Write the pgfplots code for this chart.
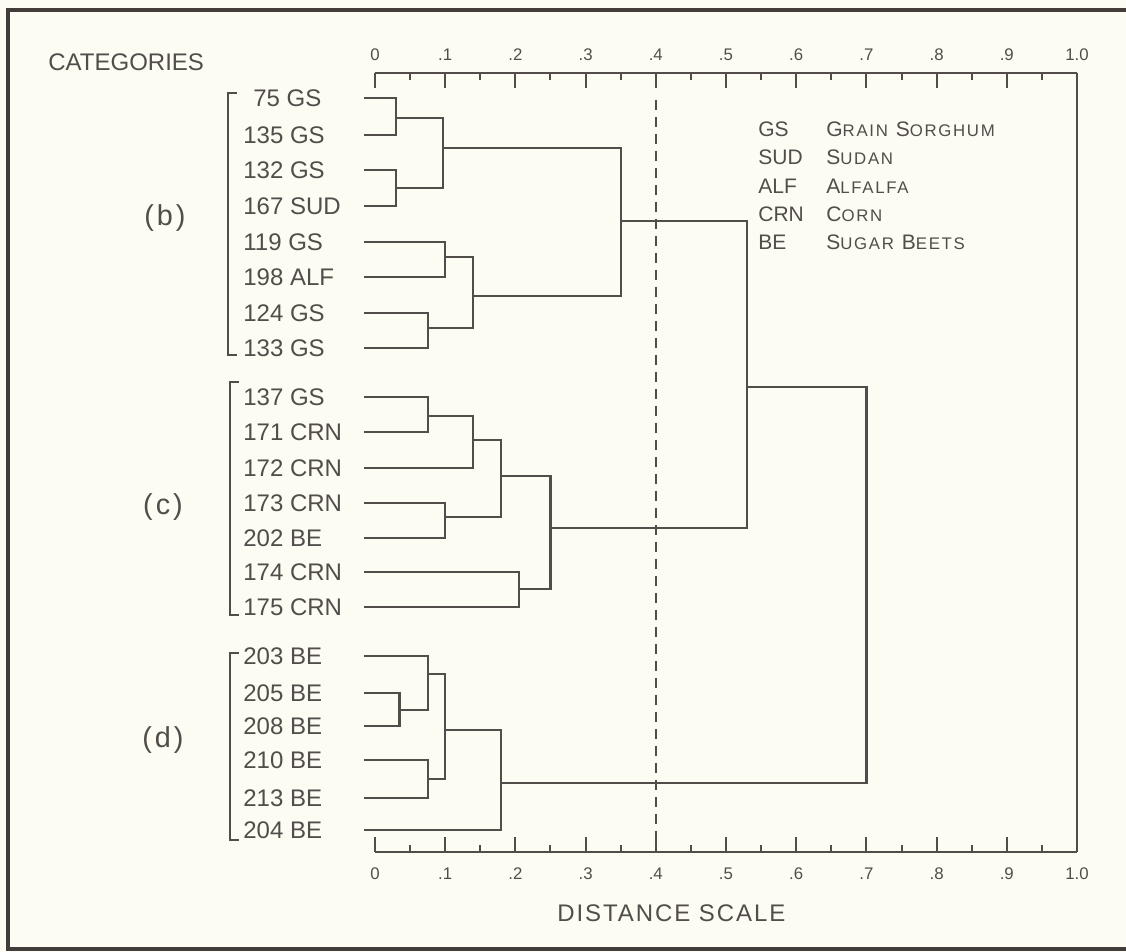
\documentclass[border=0pt]{standalone}
\usepackage{fontspec}
\setmainfont{Liberation Sans}
\newfontfamily\spaced[LetterSpace=8]{Liberation Sans}
\newfontfamily\legfont[LetterSpace=10]{Liberation Sans}
\usepackage{pgfplots}
\pgfplotsset{compat=1.18}

\definecolor{paper}{RGB}{252,252,243}
\definecolor{ink}{RGB}{82,76,74}

% 1 px of the reference = 0.5pt; origin at the lower left corner of the axis box
\newcommand{\pxy}[2]{({((#1)-375)*0.5pt},{(852-(#2))*0.5pt})}
\newcommand{\sm}[1]{{\fontsize{8.4}{10}\selectfont #1}}

\pgfplotsset{
  dendro/.style={
    at={(0,0)}, anchor=south west, scale only axis,
    width=351pt, height=389.5pt,
    xmin=0, xmax=1, ymin=73, ymax=852, y dir=reverse,
    axis x line=box, axis y line=none, ytick=\empty,
    axis line style={ink, line width=1.1pt},
    xtick={0,0.1,0.2,0.3,0.4,0.5,0.6,0.7,0.8,0.9,1},
    minor x tick num=1,
    tick align=inside, major tick length=7.5pt, minor tick length=3.5pt,
    tick style={ink, line width=1pt},
    xticklabels={0,.1,.2,.3,.4,.5,.6,.7,.8,.9,1.0},
    xticklabel style={font=\fontsize{8.4}{10}\selectfont, text=ink, anchor=base, inner sep=0pt},
    clip=false,
  },
  dl/.style={ink, line width=1.1pt, line join=miter, mark=none},
}

\begin{document}
\begin{tikzpicture}
\fill[paper, use as bounding box] \pxy{0}{952} rectangle \pxy{1126}{0};
\draw[ink!80!black, line width=2pt] \pxy{1130}{10} -- \pxy{8}{10} -- \pxy{8}{949} -- \pxy{1130}{949};

\begin{axis}[dendro, xticklabel style={yshift=-13.5pt}]
% group (b)
\addplot[dl] coordinates {(-0.015,98) (0.03,98) (0.03,135) (-0.015,135)};
\addplot[dl] coordinates {(-0.015,170) (0.03,170) (0.03,206) (-0.015,206)};
\addplot[dl] coordinates {(0.03,118) (0.097,118) (0.097,188) (0.03,188)};
\addplot[dl] coordinates {(-0.015,242) (0.1,242) (0.1,277) (-0.015,277)};
\addplot[dl] coordinates {(-0.015,313) (0.075,313) (0.075,348) (-0.015,348)};
\addplot[dl] coordinates {(0.1,257) (0.14,257) (0.14,328) (0.075,328)};
\addplot[dl] coordinates {(0.097,148) (0.35,148) (0.35,296) (0.14,296)};
% group (c)
\addplot[dl] coordinates {(-0.015,397) (0.075,397) (0.075,432) (-0.015,432)};
\addplot[dl] coordinates {(0.075,416) (0.14,416) (0.14,468) (-0.015,468)};
\addplot[dl] coordinates {(-0.015,503) (0.1,503) (0.1,538) (-0.015,538)};
\addplot[dl] coordinates {(0.14,440) (0.18,440) (0.18,517) (0.1,517)};
\addplot[dl] coordinates {(-0.015,572) (0.205,572) (0.205,607) (-0.015,607)};
\addplot[dl] coordinates {(0.18,476) (0.25,476) (0.25,589) (0.205,589)};
% (b) + (c)
\addplot[dl] coordinates {(0.35,221) (0.53,221) (0.53,528) (0.25,528)};
% group (d)
\addplot[dl] coordinates {(-0.015,693) (0.035,693) (0.035,726) (-0.015,726)};
\addplot[dl] coordinates {(-0.015,656) (0.075,656) (0.075,710) (0.035,710)};
\addplot[dl] coordinates {(-0.015,760) (0.075,760) (0.075,798) (-0.015,798)};
\addplot[dl] coordinates {(0.075,674) (0.1,674) (0.1,779) (0.075,779)};
\addplot[dl] coordinates {(0.1,730) (0.18,730) (0.18,830) (-0.015,830)};
% root
\addplot[dl] coordinates {(0.53,387) (0.7,387) (0.7,783) (0.18,783)};
% cut level
\addplot[ink, line width=1pt, dash pattern=on 5pt off 3.5pt] coordinates {(0.4,100) (0.4,845)};
\draw[ink, line width=1.1pt] (axis cs:1,73) -- (axis cs:1,852);
\end{axis}

\begin{axis}[dendro, xticklabel pos=upper, xticklabel style={yshift=6pt}]
\addplot[draw=none] coordinates {(0,73)};
\end{axis}

\begin{scope}[every node/.style={text=ink, inner sep=0pt}]
\node[anchor=base west, font=\fontsize{12}{14}\selectfont] at \pxy{48}{70.5} {CATEGORIES};
\node[anchor=base west, font=\spaced\fontsize{12}{14}\selectfont] at \pxy{557}{921.5} {DISTANCE SCALE};

\foreach \y/\t/\x in {98/75 GS/253, 135/135 GS/243, 170/132 GS/243, 206/167 SUD/243,
    242/119 GS/243, 277/198 ALF/243, 313/124 GS/243, 348/133 GS/243,
    397/137 GS/243, 432/171 CRN/243, 468/172 CRN/243, 503/173 CRN/243,
    538/202 BE/243, 572/174 CRN/243, 607/175 CRN/243,
    656/203 BE/243, 693/205 BE/243, 726/208 BE/243, 760/210 BE/243,
    798/213 BE/243, 830/204 BE/243}
  \node[anchor=base west, font=\fontsize{12}{14}\selectfont] at \pxy{\x}{\y+8.5} {\t};

\draw[ink, line width=1pt] \pxy{237}{93} -- \pxy{228}{93} -- \pxy{228}{355} -- \pxy{237}{355};
\draw[ink, line width=1pt] \pxy{239}{382} -- \pxy{230}{382} -- \pxy{230}{615} -- \pxy{239}{615};
\draw[ink, line width=1pt] \pxy{239}{653} -- \pxy{230}{653} -- \pxy{230}{840} -- \pxy{239}{840};

\node[font=\fontsize{14.4}{16}\selectfont] at \pxy{165}{218} {(\kern1.5pt b\kern1.5pt)};
\node[font=\fontsize{14.4}{16}\selectfont] at \pxy{163}{507} {(\kern1.5pt c\kern1.5pt)};
\node[font=\fontsize{14.4}{16}\selectfont] at \pxy{163}{740} {(\kern1.5pt d\kern1.5pt)};

\foreach \y/\a/\n in {129/GS/{G\sm{RAIN} S\sm{ORGHUM}}, 157/SUD/{S\sm{UDAN}},
    186/ALF/{A\sm{LFALFA}}, 214/CRN/{C\sm{ORN}}, 242/BE/{S\sm{UGAR} B\sm{EETS}}}
{
  \node[anchor=base west, font=\fontsize{10.5}{12}\selectfont] at \pxy{758}{\y+7.5} {\a};
  \node[anchor=base west, font=\legfont\fontsize{10.5}{12}\selectfont] at \pxy{826}{\y+7.5} {\n};
}
\end{scope}
\end{tikzpicture}
\end{document}
